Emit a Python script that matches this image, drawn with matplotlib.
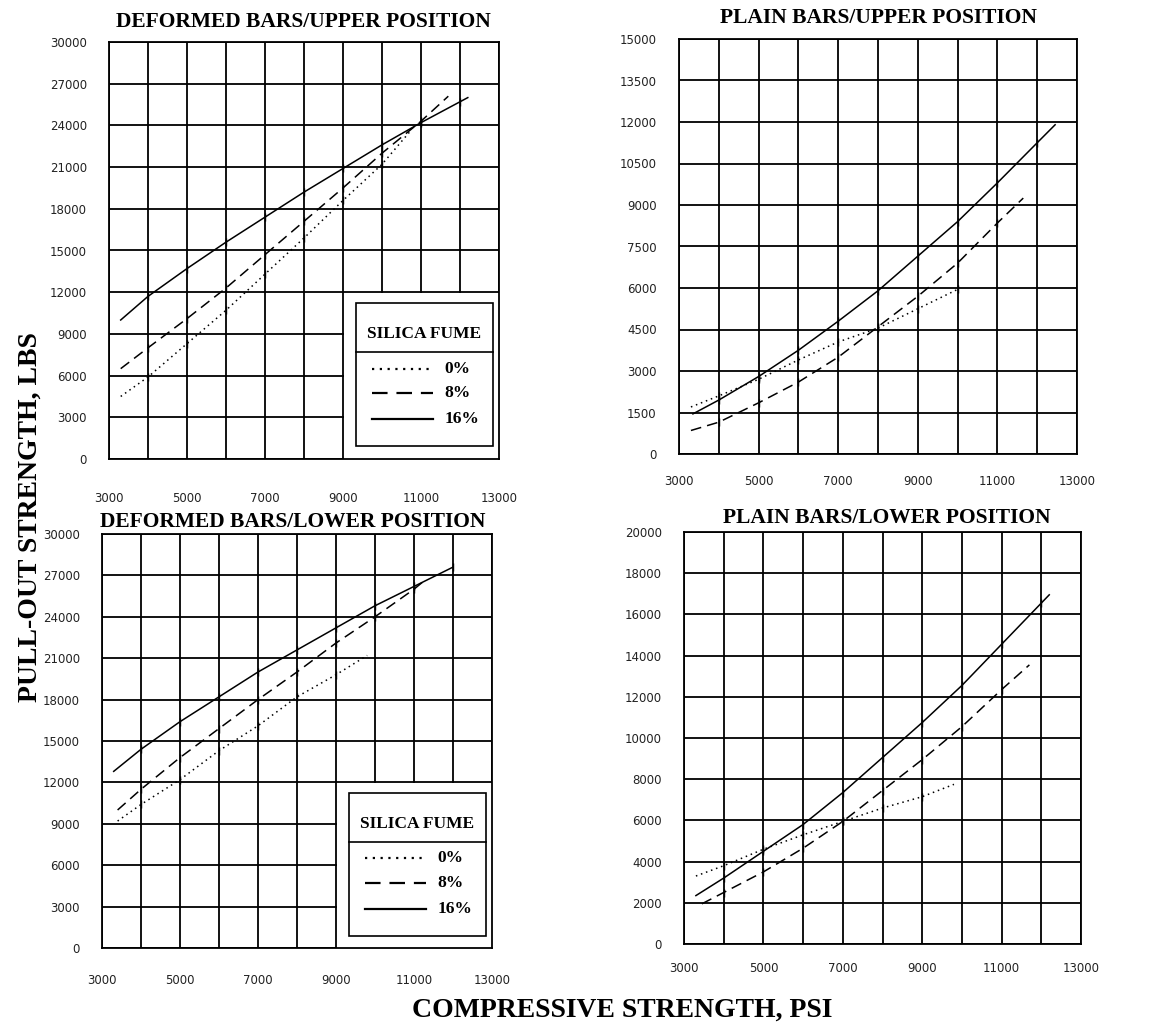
import numpy as np
import matplotlib
matplotlib.use('Agg')
import matplotlib.pyplot as plt
from matplotlib.patches import Rectangle
from matplotlib.lines import Line2D

plt.rcParams['font.family'] = 'DejaVu Sans'
SERIF = 'Liberation Serif'

W, H = 1173, 1029

# compressive strength (psi) vs pull-out load (lbs), per silica fume dosage
# deformed bars, upper position
du_x0 = [3300, 4000, 5000, 6000, 7000, 8000, 9000, 10000, 10700]
du_y0 = [4500, 5900, 8300, 10700, 13300, 15900, 18600, 21200, 23500]
du_x8 = [3300, 4000, 5000, 6000, 7000, 8000, 9000, 10000, 11000, 11700]
du_y8 = [6500, 8000, 10100, 12300, 14700, 17100, 19500, 22000, 24300, 26100]
du_x16 = [3300, 4000, 5000, 6000, 7000, 8000, 9000, 10000, 11000, 12000, 12200]
du_y16 = [10000, 11700, 13700, 15600, 17400, 19200, 20900, 22600, 24200, 25700, 26000]

# plain bars, upper position
pu_x0 = [3300, 4000, 5000, 6000, 7000, 8000, 9000, 10000]
pu_y0 = [1700, 2100, 2700, 3400, 4050, 4550, 5250, 5950]
pu_x8 = [3300, 4000, 5000, 6000, 7000, 8000, 9000, 10000, 11000, 11650]
pu_y8 = [850, 1150, 1850, 2600, 3500, 4600, 5700, 6900, 8350, 9250]
pu_x16 = [3350, 4000, 5000, 6000, 7000, 8000, 9000, 10000, 11000, 12000, 12450]
pu_y16 = [1450, 1950, 2800, 3750, 4800, 5900, 7150, 8400, 9800, 11250, 11900]

# deformed bars, lower position
dl_x0 = [3400, 4000, 5000, 6000, 7000, 8000, 9000, 9800]
dl_y0 = [9200, 10400, 12200, 14300, 16100, 18200, 19800, 21200]
dl_x8 = [3400, 4000, 5000, 6000, 7000, 8000, 9000, 10000, 11000, 11300]
dl_y8 = [10000, 11500, 13800, 15900, 18000, 20000, 22100, 24000, 26000, 26700]
dl_x16 = [3300, 4000, 5000, 6000, 7000, 8000, 9000, 10000, 11000, 12000]
dl_y16 = [12800, 14400, 16400, 18200, 20000, 21600, 23200, 24800, 26200, 27600]

# plain bars, lower position
pl_x0 = [3300, 4000, 5000, 6000, 7000, 8000, 9000, 9800]
pl_y0 = [3300, 3800, 4600, 5300, 5950, 6600, 7150, 7750]
pl_x8 = [3450, 4000, 5000, 6000, 7000, 8000, 9000, 10000, 11000, 11700]
pl_y8 = [1950, 2500, 3500, 4650, 5950, 7450, 8950, 10550, 12350, 13550]
pl_x16 = [3300, 4000, 5000, 6000, 7000, 8000, 9000, 10000, 11000, 12000, 12200]
pl_y16 = [2350, 3200, 4500, 5800, 7350, 9050, 10750, 12550, 14550, 16550, 16950]

dosages = ['0%', '8%', '16%']
styles = {'0%': (0, (1, 2.5)), '8%': (0, (7, 4)), '16%': '-'}


def px_axes(fig, left, right, top, bottom):
    return fig.add_axes([left / W, 1 - bottom / H, (right - left) / W, (bottom - top) / H])


def setup(ax, ymax, ystep, xpad):
    ax.set_xlim(3000, 13000)
    ax.set_ylim(0, ymax)
    ax.set_xticks(np.arange(3000, 13001, 2000))
    ax.set_xticks(np.arange(3000, 13001, 1000), minor=True)
    ax.set_yticks(np.arange(0, ymax + 1, ystep))
    ax.grid(True, which='both', color='black', lw=1.3)
    ax.set_axisbelow(True)
    ax.tick_params(which='both', length=0)
    ax.tick_params(axis='y', pad=16, labelsize=8.5, colors='#222222')
    ax.tick_params(axis='x', pad=xpad, labelsize=8.5, colors='#222222')
    for s in ax.spines.values():
        s.set_linewidth(1.3)


def curves(ax, data):
    for d, (x, y) in zip(dosages, data):
        marks = [i for i, v in enumerate(x) if v % 1000 == 0]
        ax.plot(x, y, color='black', lw=1.1, linestyle=styles[d],
                marker='|', markersize=6, markeredgewidth=1.0,
                markevery=marks, zorder=3)


def key(ax):
    # white patch hiding the grid behind the key
    ax.add_patch(Rectangle((0.602, 0.0), 0.398, 0.3985, transform=ax.transAxes,
                           facecolor='white', edgecolor='none', zorder=1))
    ax.add_patch(Rectangle((0.633, 0.03), 0.352, 0.344, transform=ax.transAxes,
                           facecolor='white', edgecolor='black', lw=1.2, zorder=4))
    ax.add_line(Line2D([0.633, 0.985], [0.256, 0.256], transform=ax.transAxes,
                       color='black', lw=1.2, zorder=5))
    ax.text(0.809, 0.30, 'SILICA FUME', transform=ax.transAxes, ha='center',
            va='center', family=SERIF, weight='bold', fontsize=12.5, zorder=5)
    for d, yy in zip(dosages, [0.217, 0.158, 0.095]):
        ax.add_line(Line2D([0.674, 0.831], [yy, yy], transform=ax.transAxes,
                           color='black', lw=1.6, linestyle=styles[d], zorder=5))
        ax.text(0.86, yy, d, transform=ax.transAxes, ha='left', va='center',
                family=SERIF, weight='bold', fontsize=12.5, zorder=5)


fig = plt.figure(figsize=(W / 100, H / 100), dpi=100)

ax1 = px_axes(fig, 109, 499, 42, 459)
setup(ax1, 30000, 3000, 24)
curves(ax1, [(du_x0, du_y0), (du_x8, du_y8), (du_x16, du_y16)])
key(ax1)

ax2 = px_axes(fig, 679, 1077, 39, 454)
setup(ax2, 15000, 1500, 15)
curves(ax2, [(pu_x0, pu_y0), (pu_x8, pu_y8), (pu_x16, pu_y16)])

ax3 = px_axes(fig, 102, 492, 534, 948)
setup(ax3, 30000, 3000, 19)
curves(ax3, [(dl_x0, dl_y0), (dl_x8, dl_y8), (dl_x16, dl_y16)])
key(ax3)

ax4 = px_axes(fig, 684, 1081, 532, 944)
setup(ax4, 20000, 2000, 13)
curves(ax4, [(pl_x0, pl_y0), (pl_x8, pl_y8), (pl_x16, pl_y16)])

titles = [('DEFORMED BARS/UPPER POSITION', 303, 22),
          ('PLAIN BARS/UPPER POSITION', 879, 18),
          ('DEFORMED BARS/LOWER POSITION', 293, 522),
          ('PLAIN BARS/LOWER POSITION', 887, 518)]
for t, cx, cy in titles:
    fig.text(cx / W, 1 - cy / H, t, ha='center', va='center',
             family=SERIF, weight='bold', fontsize=15.5)

fig.text(30 / W, 1 - 517 / H, 'PULL-OUT STRENGTH, LBS', rotation=90,
         ha='center', va='center', family=SERIF, weight='bold', fontsize=20)
fig.text(622 / W, 1 - 1010 / H, 'COMPRESSIVE STRENGTH, PSI',
         ha='center', va='center', family=SERIF, weight='bold', fontsize=20)

fig.savefig('out.png', dpi=100, facecolor='white')
